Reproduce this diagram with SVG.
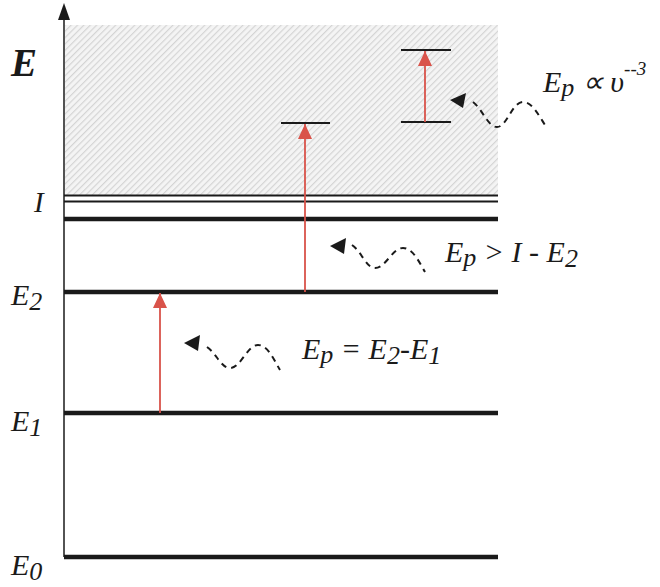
<svg xmlns="http://www.w3.org/2000/svg" width="660" height="587" viewBox="0 0 660 587">
<defs>
<pattern id="hatch" width="4.5" height="4.5" patternUnits="userSpaceOnUse" patternTransform="rotate(45)">
<rect width="4.5" height="4.5" fill="#f4f4f4"/>
<line x1="0.6" y1="0" x2="0.6" y2="4.5" stroke="#d2d2d2" stroke-width="1.1"/>
</pattern>
<marker id="red" viewBox="0 0 15 14" refX="15" refY="7" markerWidth="15" markerHeight="14" markerUnits="userSpaceOnUse" orient="auto">
<path d="M0,0 L15,7 L0,14 z" fill="#d9534a"/>
</marker>
</defs>
<style>
.lvl{stroke:#1a1a1a;stroke-width:4.5}
.thin{stroke:#1a1a1a;stroke-width:2}
.bar{stroke:#1a1a1a;stroke-width:2}
.ex{stroke:#d9534a;stroke-width:1.8;fill:none}
.wave{stroke:#1a1a1a;stroke-width:2;fill:none;stroke-dasharray:6,5}
.lab{font-family:"Liberation Serif",serif;font-style:italic;fill:#1a1a1a}
</style>
<rect width="660" height="587" fill="#ffffff"/>
<rect x="65" y="25" width="433" height="170" fill="url(#hatch)"/>
<g id="axis">
<line x1="64" y1="557" x2="64" y2="16" stroke="#1a1a1a" stroke-width="1.5"/>
<path d="M58,20 L64,3 L70,20 z" fill="#1a1a1a"/>
<text class="lab" x="11" y="76" font-size="39" font-weight="bold">E</text>
</g>
<g id="level-I">
<line class="thin" x1="64" y1="195.5" x2="498" y2="195.5"/>
<line class="thin" x1="64" y1="201.5" x2="498" y2="201.5"/>
<line class="lvl" x1="64" y1="219" x2="498" y2="219"/>
<text class="lab" x="34" y="212" font-size="29">I</text>
</g>
<g id="level-E2">
<line class="lvl" x1="64" y1="292" x2="498" y2="292"/>
<text class="lab" x="11" y="305" font-size="30">E<tspan font-size="26" dy="5">2</tspan></text>
</g>
<g id="level-E1">
<line class="lvl" x1="64" y1="413" x2="498" y2="413"/>
<text class="lab" x="11" y="431" font-size="30">E<tspan font-size="26" dy="5">1</tspan></text>
</g>
<g id="level-E0">
<line class="lvl" x1="64" y1="557" x2="498" y2="557"/>
<text class="lab" x="11" y="575" font-size="30">E<tspan font-size="26" dy="5">0</tspan></text>
</g>
<g id="bars">
<line class="bar" x1="281" y1="123" x2="330" y2="123"/>
<line class="bar" x1="401" y1="50" x2="451" y2="50"/>
<line class="bar" x1="401" y1="122" x2="451" y2="122"/>
</g>
<g id="connectors">
<line class="ex" x1="160" y1="413" x2="160" y2="293" marker-end="url(#red)"/>
<line class="ex" x1="305" y1="292" x2="305" y2="124" marker-end="url(#red)"/>
<line class="ex" x1="425" y1="122" x2="425" y2="51" marker-end="url(#red)"/>
<path class="wave" d="M473,102 C483,110 488,127 497,127 C507,127 512,102 523,102 C533,102 540,118 547,128"/>
<path d="M450,100 L466,93 L463,108 z" fill="#1a1a1a"/>
<path class="wave" d="M352,245 C362,252 366,268 375,268 C386,268 392,248 403,248 C413,248 419,262 425,272"/>
<path d="M330,246 L346,238 L344,254 z" fill="#1a1a1a"/>
<path class="wave" d="M207,347 C217,354 221,368 230,368 C241,368 247,345 258,345 C268,345 274,360 280,370"/>
<path d="M184,343 L200,335 L198,351 z" fill="#1a1a1a"/>
</g>
<g id="labels">
<text class="lab" x="543" y="92" font-size="30">E<tspan font-size="26" dy="4">p</tspan><tspan dy="-4"> ∝ υ</tspan><tspan font-size="19" dy="-17">--3</tspan></text>
<text class="lab" x="445" y="262" font-size="30">E<tspan font-size="26" dy="4">p</tspan><tspan dy="-4"> &gt; I - E</tspan><tspan font-size="26" dy="5">2</tspan></text>
<text class="lab" x="302" y="359" font-size="30">E<tspan font-size="26" dy="4">p</tspan><tspan dy="-4"> = E</tspan><tspan font-size="26" dy="5">2</tspan><tspan dy="-5">-E</tspan><tspan font-size="26" dy="5">1</tspan></text>
</g>
</svg>
